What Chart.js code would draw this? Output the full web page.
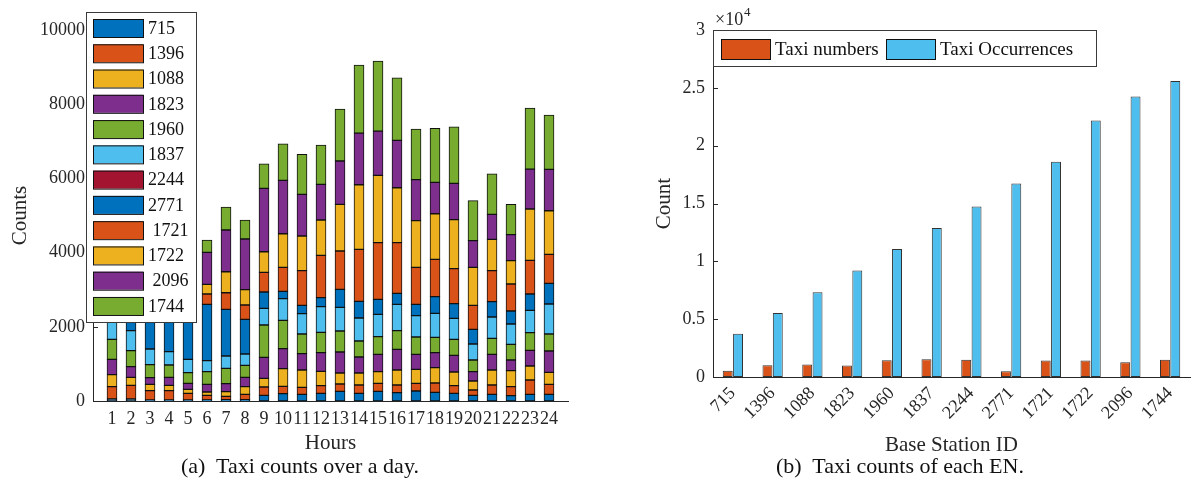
<!DOCTYPE html>
<html>
<head>
<meta charset="utf-8">
<script src="https://cdn.jsdelivr.net/npm/chart.js@4.4.1/dist/chart.umd.min.js"></script>
<style>
  body { margin: 0; background: #fff; width: 1200px; height: 493px; position: relative; overflow: hidden; font-family: "Liberation Serif", serif; }
  .box { position: absolute; top: 0; width: 600px; height: 460px; }
  .cap { position: absolute; top: 453px; width: 600px; text-align: center; font-size: 22px; color: #111; white-space: pre; }
</style>
</head>
<body>
<div class="box" style="left:0"><canvas id="hourChart"></canvas></div>
<div class="box" style="left:600px"><canvas id="stationChart"></canvas></div>
<div class="cap" style="left:0">(a)  Taxi counts over a day.</div>
<div class="cap" style="left:600px">(b)  Taxi counts of each EN.</div>
<script>
// Hours of the day (x axis of chart a)
var hours = [1, 2, 3, 4, 5, 6, 7, 8, 9, 10, 11, 12, 13, 14, 15, 16, 17, 18, 19, 20, 21, 22, 23, 24];

// Base station IDs, in stacking / legend order
var stationIds = ['715', '1396', '1088', '1823', '1960', '1837', '2244', '2771', '1721', '1722', '2096', '1744'];
var legendLabels = ['715', '1396', '1088', '1823', '1960', '1837', '2244', '2771', ' 1721', '1722', ' 2096', '1744'];

// Hourly counts per station
var s715  = [54, 54, 27, 27, 27, 30, 36, 36, 153, 198, 180, 207, 261, 207, 261, 225, 269, 234, 207, 153, 180, 144, 180, 180];
var s1396 = [332, 368, 251, 251, 179, 123, 90, 144, 224, 197, 188, 206, 197, 224, 215, 206, 207, 251, 206, 143, 251, 242, 386, 269];
var s1088 = [324, 216, 171, 144, 108, 90, 126, 206, 234, 476, 467, 387, 297, 324, 315, 404, 377, 413, 369, 243, 404, 431, 377, 324];
var s1823 = [413, 287, 180, 216, 162, 206, 215, 252, 566, 539, 441, 503, 566, 431, 467, 557, 405, 405, 449, 251, 423, 288, 422, 574];
var s1960 = [539, 431, 350, 332, 287, 341, 413, 323, 871, 764, 530, 548, 565, 431, 476, 503, 467, 413, 431, 315, 431, 422, 477, 459];
var s1837 = [650, 539, 422, 359, 360, 297, 333, 306, 449, 584, 548, 691, 638, 620, 602, 710, 575, 647, 566, 431, 575, 548, 601, 808];
var s2244 = [0, 0, 0, 0, 0, 0, 0, 0, 0, 0, 0, 0, 0, 0, 0, 0, 0, 0, 0, 0, 0, 0, 0, 0];
var s2771 = [400, 600, 1200, 1300, 1500, 1518, 1257, 934, 440, 197, 224, 243, 485, 449, 404, 297, 305, 449, 395, 395, 413, 350, 441, 557];
var s1721 = [500, 450, 350, 300, 250, 278, 449, 386, 530, 647, 934, 1141, 1033, 1401, 1527, 1365, 997, 1006, 943, 647, 835, 728, 907, 782];
var s1722 = [500, 450, 350, 300, 250, 261, 566, 413, 557, 907, 935, 952, 1258, 1743, 1815, 1482, 1258, 1230, 1321, 1024, 845, 629, 1383, 1176];
var s2096 = [900, 800, 700, 650, 700, 862, 1123, 1366, 1707, 1438, 1123, 961, 1168, 1392, 1194, 1276, 1105, 845, 979, 719, 673, 701, 1078, 1114];
var s1744 = [800, 700, 600, 550, 400, 333, 620, 512, 665, 988, 1077, 1060, 1401, 1833, 1887, 1688, 1365, 1455, 1527, 1078, 1096, 817, 1644, 1465];
var hourSeries = [s715, s1396, s1088, s1823, s1960, s1837, s2244, s2771, s1721, s1722, s2096, s1744];

// Per-station totals (chart b)
var taxiNumbers     = [550, 1010, 1070, 990, 1440, 1530, 1500, 490, 1420, 1420, 1270, 1500];
var taxiOccurrences = [3750, 5540, 7330, 9200, 11070, 12890, 14740, 16730, 18600, 22180, 24250, 25600];

// Tick values
var countTicks = [0, 2000, 4000, 6000, 8000, 10000];

// MATLAB default colour order
var matlabColors = ['#0072BD', '#D95319', '#EDB120', '#7E2F8E', '#77AC30', '#4DBEEE', '#A2142F'];
var axisColor = '#262626';
var serif = 'Liberation Serif';

function tickFont(size) { return { family: serif, size: size }; }

// inward y tick marks + boxed legend drawn over the plot
function drawInnerTicks(chart) {
  var ctx = chart.ctx, ys = chart.scales.y;
  ctx.save();
  ctx.strokeStyle = axisColor;
  ctx.lineWidth = 1;
  ys.ticks.forEach(function (t) {
    var py = Math.round(ys.getPixelForValue(t.value)) + 0.5;
    ctx.beginPath();
    ctx.moveTo(ys.right, py);
    ctx.lineTo(ys.right + 5, py);
    ctx.stroke();
  });
  ctx.restore();
}

function drawBoxLegend(chart, box, items) {
  var ctx = chart.ctx;
  ctx.save();
  ctx.fillStyle = '#fff';
  ctx.fillRect(box.x, box.y, box.w, box.h);
  ctx.strokeStyle = '#3a3a3a';
  ctx.lineWidth = 1;
  ctx.strokeRect(box.x + 0.5, box.y + 0.5, box.w, box.h);
  ctx.font = box.fontSize + 'px "' + serif + '"';
  ctx.textBaseline = 'middle';
  items.forEach(function (it) {
    ctx.fillStyle = it.color;
    ctx.fillRect(it.x, it.y, box.sw, box.sh);
    ctx.strokeStyle = '#111';
    ctx.strokeRect(it.x + 0.5, it.y + 0.5, box.sw, box.sh);
    ctx.fillStyle = '#111';
    ctx.fillText(it.text, it.x + box.sw + 5, it.y + box.sh / 2 + 1);
  });
  ctx.restore();
}

var hourLegend = {
  id: 'hourLegend',
  afterDraw: function (chart) {
    drawInnerTicks(chart);
    var items = chart.data.datasets.map(function (ds, i) {
      return { x: 93, y: 19 + i * 25.27, color: ds.backgroundColor, text: legendLabels[i] };
    });
    drawBoxLegend(chart, { x: 86, y: 12, w: 110, h: 310, sw: 50, sh: 18, fontSize: 18 }, items);
  }
};

var stationLegend = {
  id: 'stationLegend',
  afterDraw: function (chart) {
    drawInnerTicks(chart);
    var ds = chart.data.datasets;
    drawBoxLegend(chart, { x: 113, y: 30, w: 383, h: 36, sw: 49, sh: 20, fontSize: 19 }, [
      { x: 121, y: 39, color: ds[0].backgroundColor, text: ds[0].label },
      { x: 286, y: 39, color: ds[1].backgroundColor, text: ds[1].label }
    ]);
    // exponent label of the y axis
    var ctx = chart.ctx;
    ctx.save();
    ctx.fillStyle = axisColor;
    ctx.textBaseline = 'alphabetic';
    ctx.font = '18px "' + serif + '"';
    ctx.fillText('\u00d710', 115, 25);
    ctx.font = '13px "' + serif + '"';
    ctx.fillText('4', 144, 16);
    ctx.restore();
  }
};

// (a) stacked hourly counts
var hourDatasets = hourSeries.map(function (vals, i) {
  return {
    label: stationIds[i],
    data: hours.map(function (h, j) { return { x: h, y: vals[j] }; }),
    backgroundColor: matlabColors[i % matlabColors.length],
    borderColor: '#111',
    borderWidth: 1,
    borderSkipped: false,
    barThickness: 10
  };
});

new Chart(document.getElementById('hourChart').getContext('2d'), {
  type: 'bar',
  data: { datasets: hourDatasets },
  options: {
    responsive: true,
    maintainAspectRatio: false,
    animation: false,
    layout: { padding: { top: 30, right: 32, bottom: 0, left: 0 } },
    plugins: { legend: { display: false }, tooltip: { enabled: false } },
    scales: {
      x: {
        type: 'linear',
        stacked: true,
        offset: false,
        min: 0,
        max: 25,
        grid: { display: false, drawTicks: false },
        border: { display: true, color: axisColor, width: 1 },
        ticks: {
          stepSize: 1,
          autoSkip: false,
          maxRotation: 0,
          padding: 7,
          color: axisColor,
          font: tickFont(18),
          callback: function (v) { return hours.indexOf(v) >= 0 ? String(v) : ''; }
        },
        title: { display: true, text: 'Hours', color: axisColor, font: tickFont(21), padding: { top: 0, bottom: 4 } },
        afterFit: function (s) { s.height = 59; }
      },
      y: {
        stacked: true,
        min: 0,
        max: 10000,
        grid: { display: false, drawTicks: false },
        border: { display: true, color: axisColor, width: 1 },
        afterBuildTicks: function (s) { s.ticks = countTicks.map(function (v) { return { value: v }; }); },
        ticks: { padding: 8, color: axisColor, font: tickFont(18), callback: function (v) { return String(v); } },
        title: { display: true, text: 'Counts', color: axisColor, font: tickFont(21), padding: { top: 8, bottom: 0 } },
        afterFit: function (s) { s.width = 93; }
      }
    }
  },
  plugins: [hourLegend]
});

// (b) taxi numbers vs occurrences per station
new Chart(document.getElementById('stationChart').getContext('2d'), {
  type: 'bar',
  data: {
    labels: stationIds,
    datasets: [
      { label: 'Taxi numbers', data: taxiNumbers, backgroundColor: matlabColors[1], borderColor: '#333', borderWidth: 1, borderSkipped: false },
      { label: 'Taxi Occurrences', data: taxiOccurrences, backgroundColor: matlabColors[5], borderColor: '#333', borderWidth: 1, borderSkipped: false }
    ]
  },
  options: {
    responsive: true,
    maintainAspectRatio: false,
    animation: false,
    layout: { padding: { top: 30, right: 10, bottom: 0, left: 0 } },
    datasets: { bar: { categoryPercentage: 0.52, barPercentage: 0.96 } },
    plugins: { legend: { display: false }, tooltip: { enabled: false } },
    scales: {
      x: {
        grid: { display: false, drawTicks: false },
        border: { display: true, color: axisColor, width: 1 },
        ticks: { minRotation: 45, maxRotation: 45, padding: 6, color: axisColor, font: tickFont(18) },
        title: { display: true, text: 'Base Station ID', color: axisColor, font: tickFont(21), padding: { top: 0, bottom: 2 } },
        afterFit: function (s) { s.height = 83; }
      },
      y: {
        min: 0,
        max: 30000,
        grid: { display: false, drawTicks: false },
        border: { display: true, color: axisColor, width: 1 },
        ticks: {
          stepSize: 5000,
          padding: 8,
          color: axisColor,
          font: tickFont(18),
          callback: function (v) { return String(v / 10000); }
        },
        title: { display: true, text: 'Count', color: axisColor, font: tickFont(21), padding: { top: 52, bottom: 0 } },
        afterFit: function (s) { s.width = 113; }
      }
    }
  },
  plugins: [stationLegend]
});
</script>
</body>
</html>
